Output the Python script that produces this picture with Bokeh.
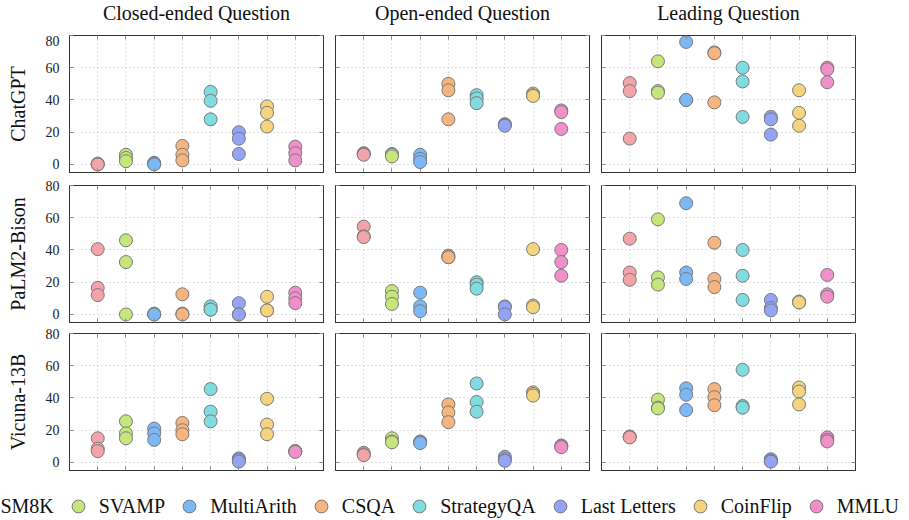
from bokeh.plotting import figure
from bokeh.models import ColumnDataSource, FixedTicker, LinearAxis, Range1d, Legend, LegendItem
from bokeh.layouts import column, row
from bokeh.core.properties import value
from bokeh.embed import file_html
from bokeh.resources import INLINE

datasets = ["GSM8K", "SVAMP", "MultiArith", "CSQA", "StrategyQA", "Last Letters", "CoinFlip", "MMLU"]
colors = ["#F3A3AA", "#C6E67C", "#7DB8F6", "#F6B47F", "#7FDCE0", "#93A4F7", "#F4D47F", "#F08FC9"]
question_types = ["Closed-ended Question", "Open-ended Question", "Leading Question"]
models = ["ChatGPT", "PaLM2-Bison", "Vicuna-13B"]
y_ticks = [0, 20, 40, 60, 80]

# values per dataset (3 runs each)
chatgpt_closed = [[0.5, 0, 0], [6, 4, 2], [1, 0.5, 0], [11.5, 6, 2.5], [45, 39.5, 28], [20, 16, 6.5], [36, 32, 23.5], [11, 7, 2.5]]
chatgpt_open = [[7, 6.5, 6], [6.5, 6, 5], [6, 3.5, 1.5], [50, 46, 28], [43, 41, 38], [25, 24.5, 24], [44, 43, 42.5], [33.5, 32.5, 22]]
chatgpt_leading = [[50.5, 45.5, 16], [64, 45.5, 44.5], [76, 40, 40], [69.5, 69, 38.5], [60, 51.5, 29.5], [29.5, 28, 18.5], [46, 32, 24], [60, 59, 51]]

palm_closed = [[40.5, 16.5, 12], [46, 32.5, 0], [0.5, 0, 0], [12.5, 0.5, 0], [5, 3, 3], [7, 0, 0], [11, 2.5, 2.5], [13.5, 10, 7]]
palm_open = [[54.5, 48.5, 48], [14.5, 11, 6.5], [13.5, 5, 2], [36.5, 35.5, 35.5], [20, 18.5, 16], [5, 4.5, 0], [40.5, 5.5, 4.5], [40, 32.5, 24]]
palm_leading = [[47, 26, 21.5], [59, 23, 18.5], [69, 26, 22], [44.5, 22, 17], [40, 24, 9], [9, 4, 2.5], [8, 7.5, 7.5], [24.5, 12.5, 11]]

vicuna_closed = [[15, 8.5, 7], [25.5, 18, 15], [21, 18, 14], [24.5, 20, 17.5], [45.5, 31.5, 25.5], [2.5, 1.5, 0.5], [39.5, 23.5, 17.5], [7, 7, 6.5]]
vicuna_open = [[6, 5, 4.5], [15, 13, 12.5], [13, 12.5, 12], [36, 31, 25], [49, 37.5, 31.5], [3.5, 2, 1], [43.5, 42.5, 41.5], [10.5, 10, 9.5]]
vicuna_leading = [[16, 16, 15.5], [39, 34, 33.5], [46, 42, 32.5], [45.5, 40.5, 35.5], [57.5, 35, 34], [2, 1, 0.5], [46.5, 44, 36], [15.5, 14, 13]]

grid_values = [
    [chatgpt_closed, chatgpt_open, chatgpt_leading],
    [palm_closed, palm_open, palm_leading],
    [vicuna_closed, vicuna_open, vicuna_leading],
]

SERIF = "Liberation Serif"
x_positions = list(range(1, len(datasets) + 1))

# layout (pixels)
FRAME_W, FRAME_H = 254, 137
HEADER_H = 35
LEFT0, GAP_SIDE, RIGHT_LAST = 69, 6, 10
TOPS = [0, 7, 6]
BOTTOMS = [6, 5, 6]
LEGEND_H = 44


def style_unlabeled(ax, ticks):
    # inward tick marks only, drawn as minor ticks so that no labels are produced
    ax.ticker = FixedTicker(ticks=[], minor_ticks=ticks)
    ax.minor_tick_in = 4
    ax.minor_tick_out = 0
    ax.minor_tick_line_color = "#8a8a8a"
    ax.major_tick_in = 0
    ax.major_tick_out = 0
    ax.major_label_standoff = 0
    ax.axis_line_color = "#333333"


def make_panel(vals, r, c):
    left = LEFT0 if c == 0 else GAP_SIDE
    right = RIGHT_LAST if c == 2 else GAP_SIDE
    p = figure(frame_width=FRAME_W, frame_height=FRAME_H,
               min_border_left=left, min_border_right=right,
               min_border_top=TOPS[r], min_border_bottom=BOTTOMS[r],
               x_range=Range1d(0, len(datasets) + 1), y_range=Range1d(-5, 80),
               output_backend="svg", toolbar_location=None, tools="")
    p.add_layout(LinearAxis(), "above")
    p.add_layout(LinearAxis(), "right")
    for ax in p.xaxis:
        style_unlabeled(ax, x_positions)
    for ax in p.yaxis:
        style_unlabeled(ax, y_ticks)
    if c == 0:
        ax = p.left[0]
        ax.ticker = FixedTicker(ticks=y_ticks)
        ax.major_tick_in = 4
        ax.major_tick_out = 0
        ax.major_tick_line_color = "#8a8a8a"
        ax.minor_tick_line_color = None
        ax.major_label_text_font_size = "14px"
        ax.major_label_text_font = SERIF
        ax.major_label_text_color = "#222222"
        ax.major_label_standoff = 10
        ax.axis_label = models[r]
        ax.axis_label_text_font = SERIF
        ax.axis_label_text_font_size = "20px"
        ax.axis_label_text_font_style = "normal"
        ax.axis_label_text_color = "#111111"
        ax.axis_label_standoff = 14
    p.xgrid.ticker = FixedTicker(ticks=x_positions)
    p.ygrid.ticker = FixedTicker(ticks=y_ticks)
    for g in p.grid:
        g.grid_line_color = "#c4c4c4"
        g.grid_line_dash = "1 3"
        g.grid_line_width = 1
    p.outline_line_color = "#333333"

    xs, ys, cs = [], [], []
    for i, runs in enumerate(vals):
        for v in runs:
            xs.append(x_positions[i])
            ys.append(v)
            cs.append(colors[i])
    src = ColumnDataSource(dict(x=xs, y=ys, color=cs))
    p.scatter("x", "y", source=src, size=13, fill_color="color",
              line_color="#7a7a7a", line_width=1)
    return p


# column headers
total_w = LEFT0 + 3 * FRAME_W + 4 * GAP_SIDE + RIGHT_LAST
frame_lefts = [LEFT0 + c * (FRAME_W + 2 * GAP_SIDE) for c in range(3)]
header = figure(width=total_w, height=HEADER_H, min_border=0, output_backend="svg",
                toolbar_location=None, tools="", x_axis_location=None, y_axis_location=None,
                x_range=Range1d(0, total_w), y_range=Range1d(HEADER_H, 0))
header.grid.visible = False
header.outline_line_color = None
header.text(x=[fl + FRAME_W / 2 for fl in frame_lefts], y=[12] * 3, text=question_types,
            text_align="center", text_baseline="middle", text_font=value(SERIF),
            text_font_size="20px", text_color="#111111")

rows = [header]
for r in range(3):
    rows.append(row([make_panel(grid_values[r][c], r, c) for c in range(3)]))

leg = figure(width=909, height=LEGEND_H, min_border=0, output_backend="svg",
             toolbar_location=None, tools="", x_axis_location=None, y_axis_location=None,
             x_range=Range1d(0, 1), y_range=Range1d(0, 1))
leg.grid.visible = False
leg.outline_line_color = None
items = []
nan = float("nan")
for name, col in zip(datasets, colors):
    rr = leg.scatter(x=[nan], y=[nan], size=13, fill_color=col, line_color="#7a7a7a", line_width=1)
    items.append(LegendItem(label=name, renderers=[rr]))
legend = Legend(items=items, orientation="horizontal", location=(-51, -2),
                glyph_width=32, glyph_height=32, label_standoff=5, spacing=8,
                padding=0, margin=0, border_line_color=None, background_fill_alpha=0,
                label_text_font=SERIF, label_text_font_size="20px", label_text_color="#111111")
leg.add_layout(legend)

p = column(rows + [leg])
open("out.html", "w").write(file_html(p, INLINE))
